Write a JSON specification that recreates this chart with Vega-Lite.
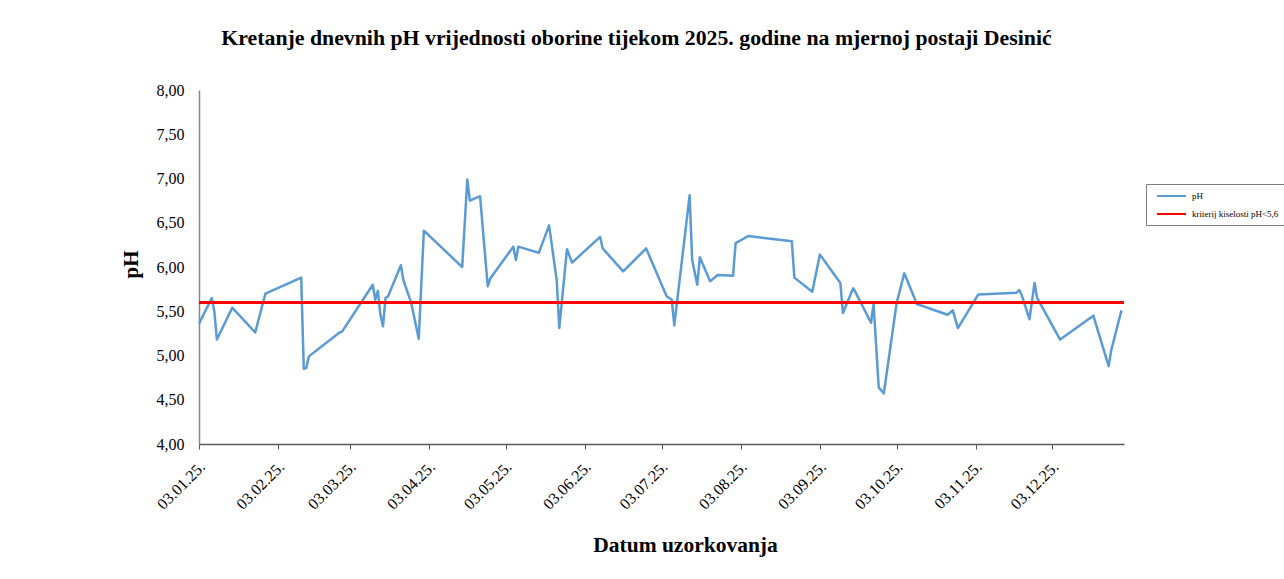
{
  "$schema": "https://vega.github.io/schema/vega-lite/v6.json",
  "width": 925,
  "height": 354,
  "autosize": {"type": "none"},
  "padding": {"left": 199, "top": 90, "right": 160, "bottom": 135},
  "background": "white",
  "config": {
    "locale": {"number": {"decimal": ",", "thousands": ".", "grouping": [3], "currency": ["", " €"]}},
    "view": {"stroke": null},
    "font": "Liberation Serif"
  },
  "title": {
    "text": "Kretanje dnevnih pH vrijednosti oborine tijekom 2025. godine na mjernoj postaji Desinić",
    "font": "Liberation Serif",
    "fontSize": 21.8,
    "fontWeight": "bold",
    "color": "black",
    "anchor": "middle",
    "frame": "group",
    "baseline": "alphabetic",
    "offset": 15,
    "dx": -25
  },
  "data": {
    "values": [
      {"date": "2025-01-03", "pH": 5.36},
      {"date": "2025-01-08", "pH": 5.65},
      {"date": "2025-01-09", "pH": 5.50},
      {"date": "2025-01-10", "pH": 5.18},
      {"date": "2025-01-16", "pH": 5.54},
      {"date": "2025-01-25", "pH": 5.26},
      {"date": "2025-01-29", "pH": 5.70},
      {"date": "2025-02-12", "pH": 5.88},
      {"date": "2025-02-13", "pH": 4.85},
      {"date": "2025-02-14", "pH": 4.86},
      {"date": "2025-02-15", "pH": 4.99},
      {"date": "2025-02-27", "pH": 5.26},
      {"date": "2025-02-28", "pH": 5.27},
      {"date": "2025-03-12", "pH": 5.80},
      {"date": "2025-03-13", "pH": 5.63},
      {"date": "2025-03-14", "pH": 5.73},
      {"date": "2025-03-15", "pH": 5.46},
      {"date": "2025-03-16", "pH": 5.33},
      {"date": "2025-03-17", "pH": 5.65},
      {"date": "2025-03-18", "pH": 5.67},
      {"date": "2025-03-23", "pH": 6.02},
      {"date": "2025-03-24", "pH": 5.85},
      {"date": "2025-03-27", "pH": 5.60},
      {"date": "2025-03-30", "pH": 5.19},
      {"date": "2025-04-01", "pH": 6.41},
      {"date": "2025-04-16", "pH": 6.00},
      {"date": "2025-04-18", "pH": 6.99},
      {"date": "2025-04-19", "pH": 6.75},
      {"date": "2025-04-23", "pH": 6.80},
      {"date": "2025-04-26", "pH": 5.78},
      {"date": "2025-04-27", "pH": 5.87},
      {"date": "2025-05-06", "pH": 6.23},
      {"date": "2025-05-07", "pH": 6.08},
      {"date": "2025-05-08", "pH": 6.23},
      {"date": "2025-05-16", "pH": 6.16},
      {"date": "2025-05-20", "pH": 6.47},
      {"date": "2025-05-23", "pH": 5.85},
      {"date": "2025-05-24", "pH": 5.31},
      {"date": "2025-05-27", "pH": 6.20},
      {"date": "2025-05-29", "pH": 6.05},
      {"date": "2025-06-09", "pH": 6.34},
      {"date": "2025-06-10", "pH": 6.21},
      {"date": "2025-06-18", "pH": 5.95},
      {"date": "2025-06-27", "pH": 6.21},
      {"date": "2025-07-05", "pH": 5.67},
      {"date": "2025-07-07", "pH": 5.63},
      {"date": "2025-07-08", "pH": 5.34},
      {"date": "2025-07-14", "pH": 6.81},
      {"date": "2025-07-15", "pH": 6.08},
      {"date": "2025-07-17", "pH": 5.80},
      {"date": "2025-07-18", "pH": 6.11},
      {"date": "2025-07-22", "pH": 5.84},
      {"date": "2025-07-25", "pH": 5.91},
      {"date": "2025-07-31", "pH": 5.90},
      {"date": "2025-08-01", "pH": 6.27},
      {"date": "2025-08-06", "pH": 6.35},
      {"date": "2025-08-23", "pH": 6.29},
      {"date": "2025-08-24", "pH": 5.88},
      {"date": "2025-08-31", "pH": 5.72},
      {"date": "2025-09-03", "pH": 6.14},
      {"date": "2025-09-11", "pH": 5.82},
      {"date": "2025-09-12", "pH": 5.48},
      {"date": "2025-09-16", "pH": 5.76},
      {"date": "2025-09-17", "pH": 5.71},
      {"date": "2025-09-23", "pH": 5.37},
      {"date": "2025-09-24", "pH": 5.58},
      {"date": "2025-09-26", "pH": 4.64},
      {"date": "2025-09-28", "pH": 4.57},
      {"date": "2025-10-03", "pH": 5.59},
      {"date": "2025-10-06", "pH": 5.93},
      {"date": "2025-10-11", "pH": 5.58},
      {"date": "2025-10-23", "pH": 5.46},
      {"date": "2025-10-25", "pH": 5.51},
      {"date": "2025-10-27", "pH": 5.31},
      {"date": "2025-11-04", "pH": 5.69},
      {"date": "2025-11-19", "pH": 5.71},
      {"date": "2025-11-20", "pH": 5.74},
      {"date": "2025-11-21", "pH": 5.68},
      {"date": "2025-11-24", "pH": 5.41},
      {"date": "2025-11-26", "pH": 5.82},
      {"date": "2025-11-27", "pH": 5.65},
      {"date": "2025-12-06", "pH": 5.18},
      {"date": "2025-12-19", "pH": 5.45},
      {"date": "2025-12-25", "pH": 4.88},
      {"date": "2025-12-26", "pH": 5.06},
      {"date": "2025-12-30", "pH": 5.51}
    ],
    "format": {"parse": {"date": "date:'%Y-%m-%d'"}}
  },
  "encoding": {
    "x": {
      "field": "date",
      "type": "temporal",
      "scale": {
        "domain": [{"year": 2025, "month": 1, "date": 3}, {"year": 2025, "month": 12, "date": 31}],
        "nice": false
      },
      "axis": {
        "values": [
          {"year": 2025, "month": 1, "date": 3},
          {"year": 2025, "month": 2, "date": 3},
          {"year": 2025, "month": 3, "date": 3},
          {"year": 2025, "month": 4, "date": 3},
          {"year": 2025, "month": 5, "date": 3},
          {"year": 2025, "month": 6, "date": 3},
          {"year": 2025, "month": 7, "date": 3},
          {"year": 2025, "month": 8, "date": 3},
          {"year": 2025, "month": 9, "date": 3},
          {"year": 2025, "month": 10, "date": 3},
          {"year": 2025, "month": 11, "date": 3},
          {"year": 2025, "month": 12, "date": 3}
        ],
        "format": "%d.%m.%y.",
        "labelAngle": -45,
        "labelAlign": "right",
        "labelBaseline": "middle",
        "labelFont": "Liberation Serif",
        "labelFontSize": 16,
        "labelColor": "black",
        "labelPadding": 15,
        "labelOffset": 3,
        "labelOverlap": false,
        "labelFlush": false,
        "tickSize": 5,
        "tickColor": "#595959",
        "domainColor": "#595959",
        "domainWidth": 1.5,
        "grid": false,
        "title": "Datum uzorkovanja",
        "titleFont": "Liberation Serif",
        "titleFontSize": 21.5,
        "titleFontWeight": "bold",
        "titleColor": "black",
        "titleX": 486,
        "titleY": 107,
        "titleAlign": "center",
        "titleBaseline": "alphabetic"
      }
    },
    "y": {
      "field": "pH",
      "type": "quantitative",
      "scale": {"domain": [4, 8], "nice": false, "zero": false},
      "axis": {
        "values": [4, 4.5, 5, 5.5, 6, 6.5, 7, 7.5, 8],
        "format": ".2f",
        "labelFont": "Liberation Serif",
        "labelFontSize": 16,
        "labelColor": "black",
        "labelPadding": 15,
        "ticks": false,
        "domainColor": "#898989",
        "domainWidth": 1.5,
        "grid": false,
        "title": "pH",
        "titleFont": "Liberation Serif",
        "titleFontSize": 21,
        "titleFontWeight": "bold",
        "titleColor": "black",
        "titleX": -62,
        "titleY": 174,
        "titleAlign": "center",
        "titleBaseline": "alphabetic"
      }
    },
    "color": {
      "datum": "pH",
      "type": "nominal",
      "scale": {"domain": ["pH", "kriterij kiselosti pH<5,6"], "range": ["#5B9BD5", "#FF0000"]},
      "legend": {
        "title": null,
        "orient": "none",
        "legendX": 947,
        "legendY": 94,
        "symbolType": "M-0.2,0H5.6",
        "symbolSize": 100,
        "symbolStrokeWidth": 2,
        "labelFont": "Liberation Serif",
        "labelFontSize": 9,
        "labelColor": "black",
        "labelOffset": 28,
        "rowPadding": 7,
        "padding": 6,
        "strokeColor": "#7f7f7f",
        "fillColor": "white"
      }
    }
  },
  "layer": [
    {
      "mark": {"type": "line", "strokeWidth": 2.5, "strokeJoin": "round"}
    },
    {
      "mark": {"type": "rule", "strokeWidth": 3},
      "encoding": {
        "x": {"datum": {"year": 2025, "month": 1, "date": 3}, "type": "temporal"},
        "x2": {"datum": {"year": 2025, "month": 12, "date": 31}},
        "y": {"datum": 5.6, "type": "quantitative"},
        "color": {"datum": "kriterij kiselosti pH<5,6", "type": "nominal"}
      }
    }
  ]
}
